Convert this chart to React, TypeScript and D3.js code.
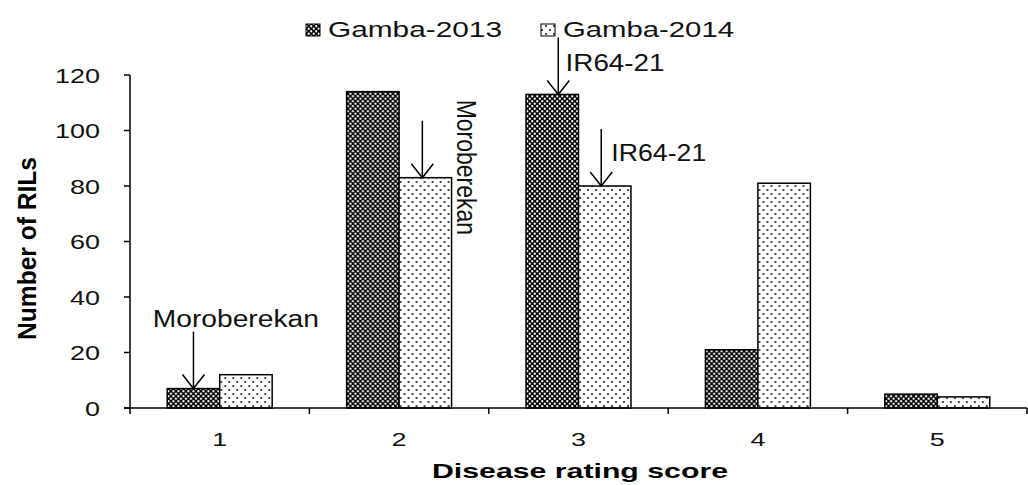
import React from 'react';
import * as d3 from 'd3';

const categories = ['1', '2', '3', '4', '5'];
const seriesNames = ['Gamba-2013', 'Gamba-2014'];
const gamba2013 = [7, 114, 113, 21, 5];
const gamba2014 = [12, 83, 80, 81, 4];
const yTicks = [0, 20, 40, 60, 80, 100, 120];
const xTitle = 'Disease rating score';
const yTitle = 'Number of RILs';

const annotations = [
  { category: '1', series: 0, label: 'Moroberekan' },
  { category: '2', series: 1, label: 'Moroberekan' },
  { category: '3', series: 0, label: 'IR64-21' },
  { category: '3', series: 1, label: 'IR64-21' },
];
// style/placement for each annotation (offsets only)
const annotationStyles = [
  { dx: 0, tx: -40.6, ty: -5, len: 166, rotate: false, fs: 23 },
  { dx: -3, tx: 35, ty: -21, len: 0, rotate: true, fs: 23 },
  { dx: 6, tx: 7.3, ty: 34, len: 99, rotate: false, fs: 24 },
  { dx: -3.5, tx: 10, ty: 32, len: 95, rotate: false, fs: 24 },
];

const W = 1028;
const H = 485;
const FONT = '"Liberation Sans", Arial, sans-serif';
const INK = '#111';

export default function App() {
  const values = [gamba2013, gamba2014];
  const x0 = d3
    .scaleBand<string>()
    .domain(categories)
    .range([130, 1027])
    .paddingInner(0.415)
    .paddingOuter(0.2075);
  const x1 = d3
    .scaleBand<number>()
    .domain([0, 1])
    .range([0, x0.bandwidth()]);
  const y = d3.scaleLinear().domain([0, 120]).range([408, 75]);
  const step = x0.step();
  const left = 130;
  const right = 1027;
  const boundaries = d3.range(categories.length + 1).map((k) => left + step * k);
  const fills = ['url(#patDark)', 'url(#patLight)'];
  const arrowLen = 57;

  return (
    <svg
      width={W}
      height={H}
      style={{ position: 'absolute', left: 0, top: 0, background: '#fff' }}
      fontFamily={FONT}
    >
      <defs>
        <pattern id="patDark" width="5" height="5" patternUnits="userSpaceOnUse">
          <rect width="5" height="5" fill="#000" />
          <circle cx="1.25" cy="1.25" r="1.15" fill="#fff" />
          <circle cx="3.75" cy="3.75" r="1.15" fill="#fff" />
        </pattern>
        <pattern id="patLight" width="8" height="8" patternUnits="userSpaceOnUse">
          <rect width="8" height="8" fill="#fff" />
          <circle cx="2" cy="2" r="0.95" fill="#000" />
          <circle cx="6" cy="6" r="0.95" fill="#000" />
        </pattern>
      </defs>
      <rect width={W} height={H} fill="#fff" />

      {/* bars */}
      {categories.map((c, i) => (
        <g key={c} transform={`translate(${x0(c)},0)`}>
          {values.map((vals, s) => (
            <rect
              key={s}
              x={x1(s)}
              y={y(vals[i])}
              width={x1.bandwidth()}
              height={y(0) - y(vals[i])}
              fill={fills[s]}
              stroke="#000"
              strokeWidth={1.5}
            />
          ))}
        </g>
      ))}

      {/* y axis */}
      <line x1={left} x2={left} y1={y(120)} y2={y(0)} stroke="#000" strokeWidth={1.5} />
      {yTicks.map((t) => (
        <g key={t}>
          <line x1={left - 6} x2={left} y1={y(t)} y2={y(t)} stroke="#000" strokeWidth={1.5} />
          <text
            x={100}
            y={y(t) + 7.5}
            textAnchor="end"
            fontSize={21}
            textLength={String(t).length * 15}
            lengthAdjust="spacingAndGlyphs"
            fill={INK}
          >
            {t}
          </text>
        </g>
      ))}

      {/* x axis */}
      <line x1={left - 6} x2={right} y1={y(0)} y2={y(0)} stroke="#000" strokeWidth={1.5} />
      {boundaries.map((b, k) => (
        <line key={k} x1={b} x2={b} y1={y(0)} y2={y(0) + 6} stroke="#000" strokeWidth={1.5} />
      ))}
      {categories.map((c) => (
        <text
          key={c}
          x={(x0(c) as number) + x0.bandwidth() / 2}
          y={446}
          textAnchor="middle"
          fontSize={19}
          textLength={15}
          lengthAdjust="spacingAndGlyphs"
          fill={INK}
        >
          {c}
        </text>
      ))}

      {/* axis titles */}
      <text
        x={432}
        y={478}
        fontSize={21}
        fontWeight="bold"
        textLength={296}
        lengthAdjust="spacingAndGlyphs"
        fill="#000"
      >
        {xTitle}
      </text>
      <text
        transform="translate(36,248.5) scale(1.15,1) rotate(-90)"
        textAnchor="middle"
        fontSize={22}
        fontWeight="bold"
        textLength={183}
        lengthAdjust="spacingAndGlyphs"
        fill="#000"
      >
        {yTitle}
      </text>

      {/* legend */}
      {seriesNames.map((n, s) => {
        const lx = [306, 541][s];
        return (
          <g key={n}>
            <rect x={lx} y={24} width={14} height={12} fill={fills[s]} stroke="#000" strokeWidth={1} />
            <text
              x={lx + 22}
              y={37}
              fontSize={22}
              textLength={[174, 171][s]}
              lengthAdjust="spacingAndGlyphs"
              fill={INK}
            >
              {n}
            </text>
          </g>
        );
      })}

      {/* annotations */}
      {annotations.map((a, k) => {
        const st = annotationStyles[k];
        const ci = categories.indexOf(a.category);
        const v = values[a.series][ci];
        const ax = (x0(a.category) as number) + (x1(a.series) as number) + x1.bandwidth() / 2 + st.dx;
        const tip = y(v);
        const top = tip - arrowLen;
        return (
          <g key={k}>
            <line x1={ax} x2={ax} y1={top} y2={tip} stroke="#000" strokeWidth={1.5} />
            <polyline
              points={`${ax - 11},${tip - 14} ${ax},${tip} ${ax + 11},${tip - 14}`}
              fill="none"
              stroke="#000"
              strokeWidth={1.5}
            />
            {st.rotate ? (
              <text
                transform={`translate(${ax + st.tx},${top + st.ty}) scale(1.23,1) rotate(90)`}
                fontSize={st.fs}
                fill={INK}
              >
                {a.label}
              </text>
            ) : (
              <text
                x={ax + st.tx}
                y={top + st.ty}
                fontSize={st.fs}
                textLength={st.len}
                lengthAdjust="spacingAndGlyphs"
                fill={INK}
              >
                {a.label}
              </text>
            )}
          </g>
        );
      })}
    </svg>
  );
}
